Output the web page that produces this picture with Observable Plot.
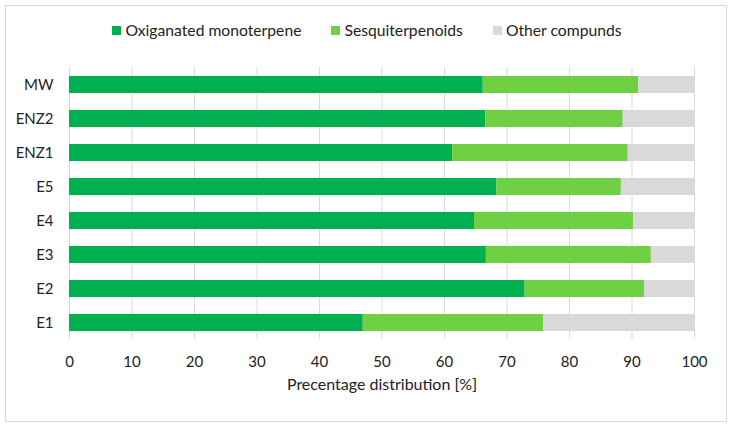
<!DOCTYPE html>
<html><head><meta charset="utf-8">
<script src="https://cdn.jsdelivr.net/npm/d3@7"></script>
<script src="https://cdn.jsdelivr.net/npm/@observablehq/plot@0.6"></script>
<style>
body{margin:0;background:#fff;font-family:Lato,sans-serif;color:#222;}
#wrap{position:relative;width:734px;height:428px;overflow:hidden;}
#frame{position:absolute;left:5px;top:5px;width:722px;height:417px;border:1px solid #d9d9d9;box-sizing:border-box;pointer-events:none;}
#legend{height:50px;display:flex;justify-content:center;align-items:center;gap:30px;font-size:15.7px;padding-top:10px;box-sizing:border-box;}
.item{display:flex;align-items:center;gap:4px;}
.sw{width:9px;height:9px;display:inline-block;}
svg{display:block;}
</style></head>
<body>
<div id="wrap"><div id="legend"></div><div id="chart"></div><div id="frame"></div></div>
<script>
const samples = ["MW","ENZ2","ENZ1","E5","E4","E3","E2","E1"];
const groups = ["Oxiganated monoterpene","Sesquiterpenoids","Other compunds"];
const oxMono = [66.2,66.6,61.3,68.4,64.8,66.7,72.9,47.0];
const sesqui = [24.9,22.0,28.1,19.9,25.5,26.4,19.1,28.9];
const other  = [8.9,11.4,10.6,11.7,9.7,6.9,8.0,24.1];
const colors = ["#00b050","#70d044","#d9d9d9"];
const xLabel = ["Precentage distribution [%]"];

const series = [oxMono, sesqui, other];
const table = samples.flatMap((s, i) => groups.map((g, j) => ({sample: s, group: g, value: series[j][i]})));

const legend = document.getElementById("legend");
groups.forEach((g, j) => {
  const it = document.createElement("div");
  it.className = "item";
  const sw = document.createElement("span");
  sw.className = "sw"; sw.style.background = colors[j];
  const t = document.createElement("span"); t.textContent = g;
  it.append(sw, t); legend.append(it);
});

const chart = Plot.plot({
  width: 734, height: 378,
  marginLeft: 69, marginRight: 40, marginTop: 17, marginBottom: 89,
  style: {fontSize: "15px", fontFamily: "Lato, sans-serif", color: "#222", background: "#fff"},
  x: {domain: [0, 100], ticks: 10},
  y: {domain: samples, paddingInner: 0.5, paddingOuter: 0.25},
  color: {domain: groups, range: colors},
  marks: [
    Plot.gridX({ticks: 10, stroke: "#d9d9d9", strokeOpacity: 1}),
    Plot.barX(table, Plot.stackX({y: "sample", x: "value", fill: "group", order: groups})),
    Plot.axisX({ticks: 10, tickSize: 0, tickPadding: 17, label: null}),
    Plot.axisY({tickSize: 0, tickPadding: 16, label: null}),
    Plot.text(xLabel, {text: d => d, frameAnchor: "bottom", dy: 50, fontSize: 16, fill: "#222"})
  ]
});
document.getElementById("chart").append(chart);
</script>
</body></html>
